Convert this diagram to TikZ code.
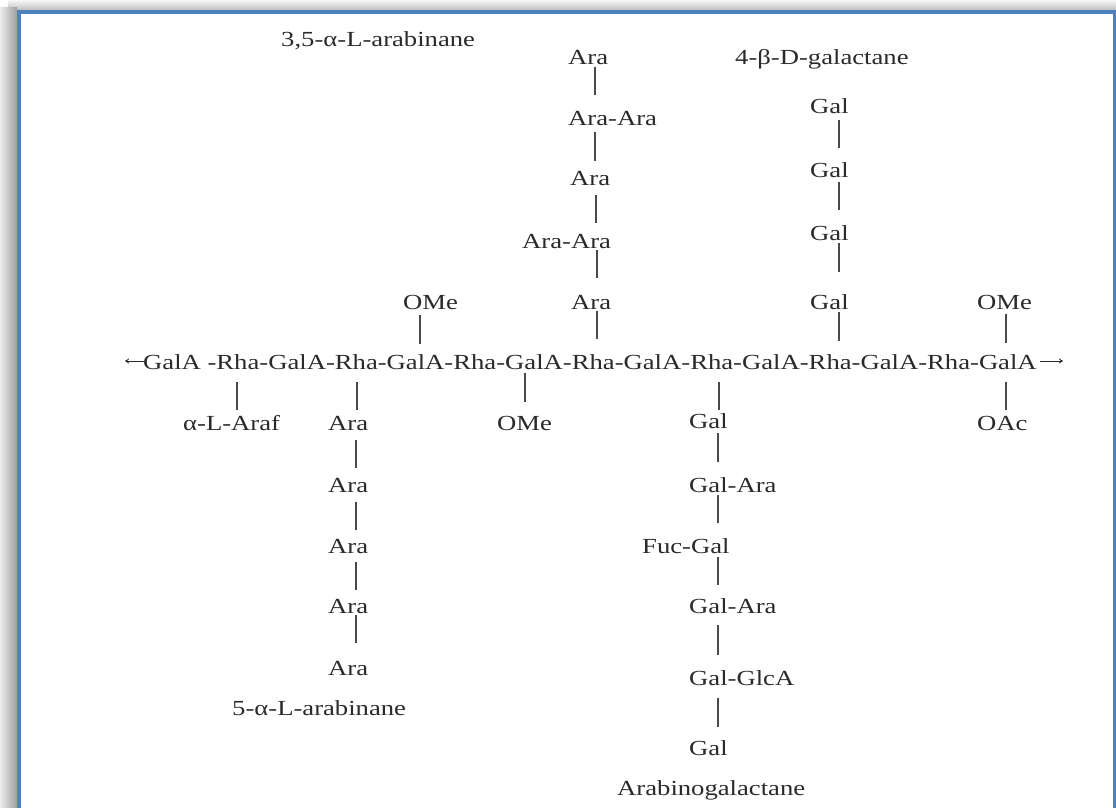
\documentclass[tikz,border=0pt]{standalone}
\usepackage{fontspec}
\setmainfont{Liberation Serif}[FakeStretch=1.24]
\usetikzlibrary{arrows.meta}
\definecolor{frameblue}{HTML}{4F81BD}
\definecolor{ink}{HTML}{2A2A2A}
\begin{document}
\begin{tikzpicture}[x=1pt,y=-1pt,
  lbl/.style={anchor=base west, inner sep=0pt, text=ink, font=\fontsize{21.5}{24}\selectfont},
  bond/.style={draw=ink!85, line width=1.9pt},
  endarrow/.style={draw=ink, line width=0.9pt, -{To[length=4pt,width=5pt]}}]
\useasboundingbox (0,0) rectangle (1116,808);
% frame and shadow
\shade[top color=gray!6, bottom color=gray!55] (8,0) rectangle (1116,11);
\shade[left color=gray!15, right color=gray!75] (0,8) rectangle (17,808);
\fill[frameblue] (17,10) rectangle (1116,14);
\fill[frameblue] (17,10) rectangle (21,808);
\fill[frameblue] (1113,10) rectangle (1116,808);
\fill[white] (21,14) rectangle (1113,808);

% titles
\node[lbl] (t35) at (281,47) {3,5-α-L-arabinane};
\node[lbl] (t4b) at (735,65) {4-β-D-galactane};

% upper arabinan branch
\node[lbl] (ua1) at (568,64) {Ara};
\node[lbl] (ua2) at (568,125) {Ara-Ara};
\node[lbl] (ua3) at (570,185) {Ara};
\node[lbl] (ua4) at (522,248) {Ara-Ara};
\node[lbl] (ua5) at (571,309) {Ara};

% galactan branch
\node[lbl] (ug1) at (810,113) {Gal};
\node[lbl] (ug2) at (810,177) {Gal};
\node[lbl] (ug3) at (810,240) {Gal};
\node[lbl] (ug4) at (810,309) {Gal};

% methyl groups above
\node[lbl] (ome1) at (403,309) {OMe};
\node[lbl] (ome2) at (977,309) {OMe};

% main chain
\node[lbl] (chain) at (143,369) {GalA -Rha-GalA-Rha-GalA-Rha-GalA-Rha-GalA-Rha-GalA-Rha-GalA-Rha-GalA};
\coordinate (lend) at (125,361);
\coordinate (rend) at (1063,361);
\draw[endarrow] (chain.west |- lend) ++(1,0) -- (lend);
\draw[endarrow] (chain.east |- rend) ++(3,0) -- (rend);

% substituents below chain
\node[lbl] (araf) at (183,430) {α-L-Araf};
\node[lbl] (la1) at (328,430) {Ara};
\node[lbl] (ome3) at (497,430) {OMe};
\node[lbl] (lg1) at (689,428) {Gal};
\node[lbl] (oac) at (977,430) {OAc};

% lower arabinan branch
\node[lbl] (la2) at (328,492) {Ara};
\node[lbl] (la3) at (328,553) {Ara};
\node[lbl] (la4) at (328,613) {Ara};
\node[lbl] (la5) at (328,675) {Ara};
\node[lbl] (t5a) at (232,715) {5-α-L-arabinane};

% arabinogalactan branch
\node[lbl] (lg2) at (689,492) {Gal-Ara};
\node[lbl] (lg3) at (642,553) {Fuc-Gal};
\node[lbl] (lg4) at (689,613) {Gal-Ara};
\node[lbl] (lg5) at (689,685) {Gal-GlcA};
\node[lbl] (lg6) at (689,755) {Gal};
\node[lbl] (tag) at (617,795) {Arabinogalactane};

% bonds: upper arabinan
\draw[bond] (ua1.base -| 595,0) ++(0,3) -- ++(0,28);
\draw[bond] (ua2.base -| 595,0) ++(0,7) -- ++(0,29);
\draw[bond] (ua3.base -| 596,0) ++(0,10) -- ++(0,28);
\draw[bond] (ua4.base -| 597,0) ++(0,2) -- ++(0,28);
\draw[bond] (ua5.base -| 597,0) ++(0,2) -- ++(0,28);
% bonds: galactan
\draw[bond] (ug1.base -| 839,0) ++(0,7) -- ++(0,28);
\draw[bond] (ug2.base -| 839,0) ++(0,5) -- ++(0,28);
\draw[bond] (ug3.base -| 839,0) ++(0,3) -- ++(0,29);
\draw[bond] (ug4.base -| 839,0) ++(0,3) -- ++(0,29);
% bonds: methyls above
\draw[bond] (ome1.base -| 420,0) ++(0,6) -- ++(0,29);
\draw[bond] (ome2.base -| 1006,0) ++(0,5) -- ++(0,29);
% bonds below chain
\draw[bond] (chain.base -| 237,0) ++(0,13) -- ++(0,28);
\draw[bond] (chain.base -| 357,0) ++(0,13) -- ++(0,28);
\draw[bond] (chain.base -| 525,0) ++(0,4) -- ++(0,29);
\draw[bond] (chain.base -| 719,0) ++(0,13) -- ++(0,28);
\draw[bond] (chain.base -| 1006,0) ++(0,13) -- ++(0,28);
% bonds: lower arabinan
\draw[bond] (la1.base -| 356,0) ++(0,10) -- ++(0,28);
\draw[bond] (la2.base -| 356,0) ++(0,10) -- ++(0,28);
\draw[bond] (la3.base -| 356,0) ++(0,9) -- ++(0,28);
\draw[bond] (la4.base -| 356,0) ++(0,2) -- ++(0,28);
% bonds: arabinogalactan
\draw[bond] (lg1.base -| 718,0) ++(0,5) -- ++(0,29);
\draw[bond] (lg2.base -| 718,0) ++(0,3) -- ++(0,28);
\draw[bond] (lg3.base -| 718,0) ++(0,4) -- ++(0,28);
\draw[bond] (lg4.base -| 718,0) ++(0,12) -- ++(0,30);
\draw[bond] (lg5.base -| 718,0) ++(0,13) -- ++(0,29);
\end{tikzpicture}
\end{document}
